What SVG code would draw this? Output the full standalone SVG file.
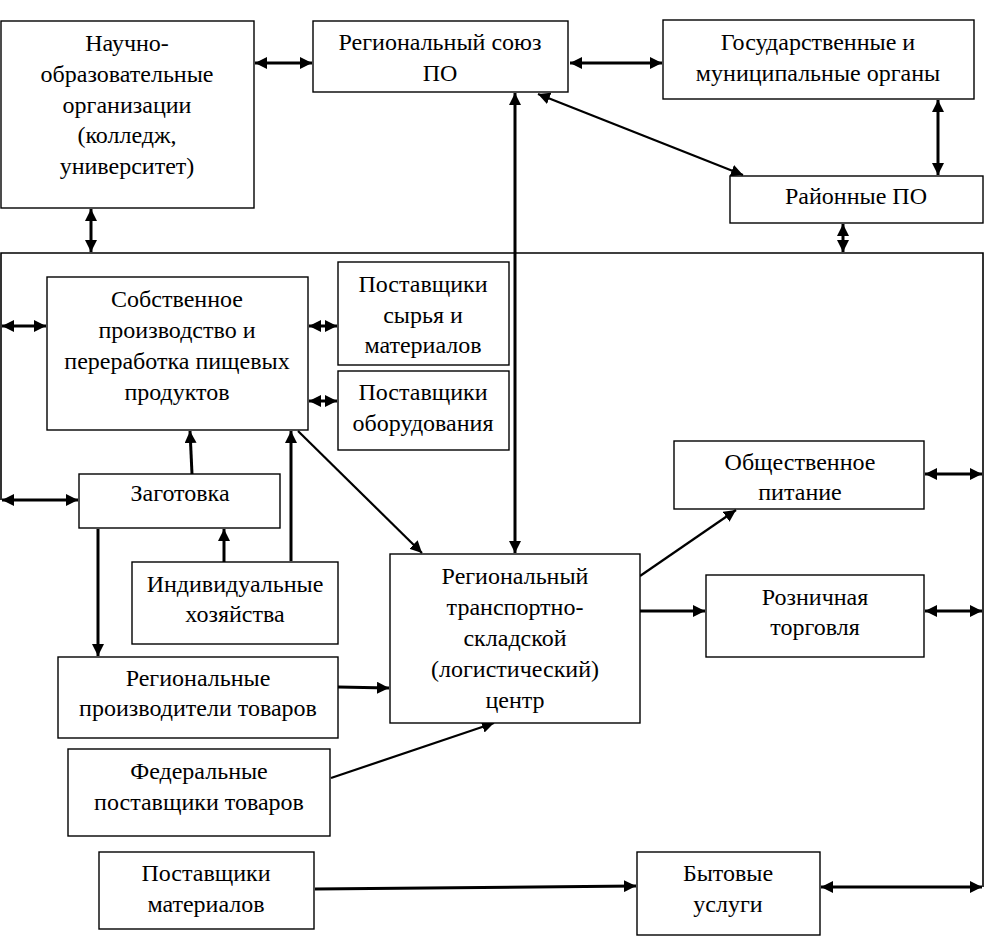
<svg xmlns="http://www.w3.org/2000/svg" width="989" height="938" viewBox="0 0 989 938">
<style>
.box{fill:#fff;stroke:#000;stroke-width:1.4}
.t{font-family:"Liberation Serif","Times New Roman",serif;font-size:24px;fill:#000;text-anchor:middle}
.c{fill:none;stroke:#000;stroke-width:3}
.d{fill:none;stroke:#000;stroke-width:2.2}
.a{marker-end:url(#ah)}
.b{marker-start:url(#ah);marker-end:url(#ah)}
</style>
<defs>
<marker id="ah" markerUnits="userSpaceOnUse" markerWidth="12" markerHeight="12" refX="12" refY="6" orient="auto-start-reverse">
<path d="M0,0 L12,6 L0,12 z" fill="#000"/>
</marker>
</defs>
<rect width="989" height="938" fill="#fff"/>
<g id="frame"><path d="M1,500 V253 H983 V887" fill="none" stroke="#000" stroke-width="1.6"/></g>

<g id="connectors">
<line class="c b" x1="255" y1="63" x2="312" y2="63"/>
<line class="c b" x1="91" y1="209" x2="91" y2="252"/>
<line class="c b" x1="570" y1="63" x2="662" y2="63"/>
<line class="d b" x1="538" y1="94" x2="743" y2="175"/>
<line class="c b" x1="938" y1="100" x2="938" y2="175"/>
<line class="c b" x1="843" y1="224" x2="843" y2="252"/>
<line class="c b" x1="515" y1="93" x2="515" y2="553"/>
<line class="c b" x1="2" y1="326" x2="46" y2="326"/>
<line class="c b" x1="309" y1="326" x2="337" y2="326"/>
<line class="c b" x1="309" y1="401" x2="337" y2="401"/>
<line class="c b" x1="2" y1="500" x2="78" y2="500"/>
<line class="c a" x1="192" y1="474" x2="190" y2="431"/>
<line class="c a" x1="291" y1="561" x2="291" y2="431"/>
<line class="d a" x1="298" y1="431" x2="422" y2="553"/>
<line class="c a" x1="224" y1="562" x2="224" y2="529"/>
<line class="c a" x1="98" y1="529" x2="98" y2="656"/>
<line class="c a" x1="338" y1="687" x2="389" y2="688"/>
<line class="d a" x1="331" y1="778" x2="494" y2="723"/>
<line class="d a" x1="640" y1="576" x2="736" y2="510"/>
<line class="c a" x1="640" y1="611" x2="705" y2="611"/>
<line class="c b" x1="925" y1="474" x2="982" y2="474"/>
<line class="c b" x1="925" y1="611" x2="982" y2="611"/>
<line class="c a" x1="315" y1="889" x2="636" y2="886"/>
<line class="c b" x1="821" y1="887" x2="982" y2="887"/>
</g>

<g id="n1"><rect class="box" x="1" y="21" width="253" height="187"/>
<text class="t" x="127" y="51">Научно-</text>
<text class="t" x="127" y="82">образовательные</text>
<text class="t" x="127" y="113">организации</text>
<text class="t" x="127" y="143">(колледж,</text>
<text class="t" x="127" y="174">университет)</text></g>

<g id="n2"><rect class="box" x="313" y="21" width="255" height="71"/>
<text class="t" x="440" y="50">Региональный союз</text>
<text class="t" x="440" y="81">ПО</text></g>

<g id="n3"><rect class="box" x="663" y="20" width="311" height="79"/>
<text class="t" x="818" y="50">Государственные и</text>
<text class="t" x="818" y="81">муниципальные органы</text></g>

<g id="n4"><rect class="box" x="730" y="176" width="253" height="47"/>
<text class="t" x="856" y="204">Районные ПО</text></g>

<g id="n5"><rect class="box" x="47" y="277" width="261" height="153"/>
<text class="t" x="177" y="307">Собственное</text>
<text class="t" x="177" y="338">производство и</text>
<text class="t" x="177" y="369">переработка пищевых</text>
<text class="t" x="177" y="400">продуктов</text></g>

<g id="n6"><rect class="box" x="338" y="262" width="171" height="103"/>
<text class="t" x="423" y="292">Поставщики</text>
<text class="t" x="423" y="323">сырья и</text>
<text class="t" x="423" y="353">материалов</text></g>

<g id="n7"><rect class="box" x="338" y="371" width="171" height="79"/>
<text class="t" x="423" y="400">Поставщики</text>
<text class="t" x="423" y="431">оборудования</text></g>

<g id="n8"><rect class="box" x="79" y="474" width="201" height="54"/>
<text class="t" x="180" y="501">Заготовка</text></g>

<g id="n9"><rect class="box" x="132" y="562" width="206" height="82"/>
<text class="t" x="235" y="592">Индивидуальные</text>
<text class="t" x="235" y="622">хозяйства</text></g>

<g id="n10"><rect class="box" x="58" y="657" width="280" height="81"/>
<text class="t" x="198" y="686">Региональные</text>
<text class="t" x="198" y="716">производители товаров</text></g>

<g id="n11"><rect class="box" x="390" y="554" width="250" height="169"/>
<text class="t" x="515" y="584">Региональный</text>
<text class="t" x="515" y="615">транспортно-</text>
<text class="t" x="515" y="646">складской</text>
<text class="t" x="515" y="677">(логистический)</text>
<text class="t" x="515" y="708">центр</text></g>

<g id="n12"><rect class="box" x="674" y="441" width="250" height="68"/>
<text class="t" x="800" y="470">Общественное</text>
<text class="t" x="800" y="500">питание</text></g>

<g id="n13"><rect class="box" x="706" y="575" width="218" height="82"/>
<text class="t" x="815" y="605">Розничная</text>
<text class="t" x="815" y="635">торговля</text></g>

<g id="n14"><rect class="box" x="68" y="749" width="262" height="87"/>
<text class="t" x="199" y="779">Федеральные</text>
<text class="t" x="199" y="810">поставщики товаров</text></g>

<g id="n15"><rect class="box" x="99" y="852" width="215" height="77"/>
<text class="t" x="206" y="881">Поставщики</text>
<text class="t" x="206" y="912">материалов</text></g>

<g id="n16"><rect class="box" x="637" y="852" width="183" height="83"/>
<text class="t" x="728" y="881">Бытовые</text>
<text class="t" x="728" y="912">услуги</text></g>
</svg>
